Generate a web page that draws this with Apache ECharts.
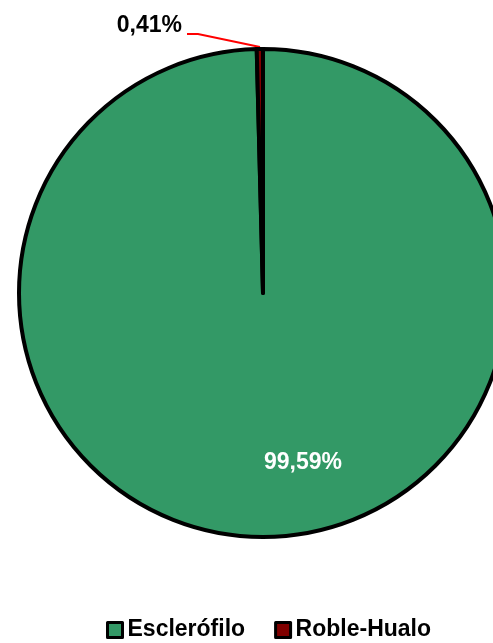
<!DOCTYPE html>
<html><head><meta charset="utf-8">
<script src="https://cdn.jsdelivr.net/npm/echarts@6/dist/echarts.min.js"></script>
<style>html,body{margin:0;padding:0;background:#fff}#c{width:493px;height:643px}</style>
</head><body><div id="c"></div>
<script>
const categories = ['Esclerófilo', 'Roble-Hualo'];
const values = [99.59, 0.41];
const labels = ['99,59%', '0,41%'];
const colors = ['#339966', '#800000'];
const FONT = "'Liberation Sans Narrow', 'Arial Narrow', 'Liberation Sans', Arial, sans-serif";

const chart = echarts.init(document.getElementById('c'));
chart.setOption({
  animation: false,
  legend: {
    top: 618,
    left: 106,
    padding: 0,
    itemWidth: 15, itemHeight: 15, itemGap: 29,
    icon: 'rect',
    itemStyle: { borderColor: '#000', borderWidth: 3 },
    textStyle: { fontFamily: FONT, fontWeight: 'bold', fontSize: 23, lineHeight: 24, color: '#000' },
    data: categories
  },
  series: [{
    type: 'pie',
    center: [263, 293],
    radius: 244,
    startAngle: 90,
    clockwise: true,
    avoidLabelOverlap: false,
    itemStyle: { borderColor: '#000', borderWidth: 4 },
    data: categories.map((n, i) => ({
      name: n, value: values[i],
      itemStyle: { color: colors[i] },
      label: {
        show: true,
        formatter: labels[i],
        position: i === 0 ? 'inside' : 'outside',
        fontFamily: FONT, fontWeight: 'bold', fontSize: 23,
        color: i === 0 ? '#fff' : '#000'
      },
      labelLine: { show: i === 1, lineStyle: { color: '#ff0000', width: 2 } }
    })),
    labelLayout: function (p) {
      if (p.dataIndex === 0) {
        return { x: 303, y: 463, align: 'center', verticalAlign: 'middle' };
      }
      return {
        x: 182, y: 26, align: 'right', verticalAlign: 'middle',
        labelLinePoints: [[260, 47], [198, 34], [187, 34]]
      };
    }
  }]
});
</script></body></html>
